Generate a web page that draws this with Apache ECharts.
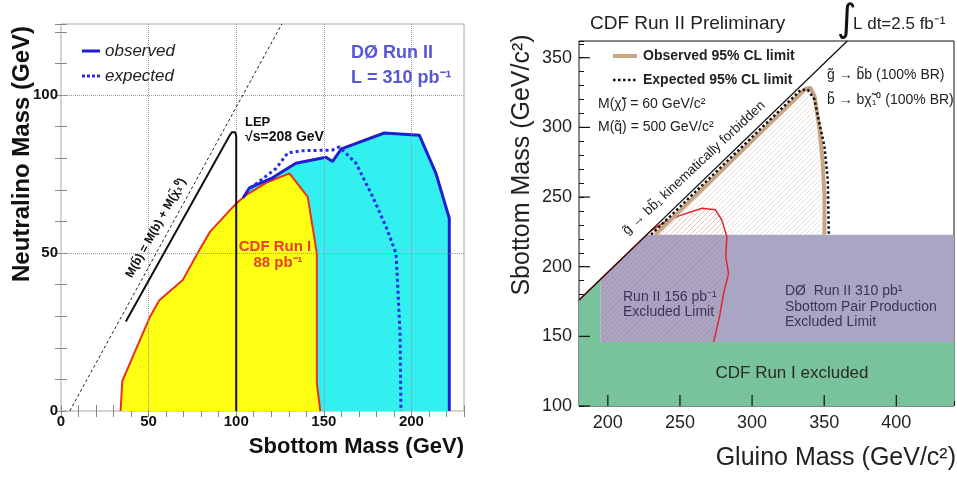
<!DOCTYPE html>
<html>
<head>
<meta charset="utf-8">
<script src="https://cdn.jsdelivr.net/npm/echarts@6/dist/echarts.min.js"></script>
<style>
  html, body { margin: 0; padding: 0; background: #fff; }
  #chart { width: 957px; height: 479px; }
</style>
</head>
<body>
<div id="chart"></div>
<script>
'use strict';
// ---- left panel: D0 sbottom search (neutralino vs sbottom mass) ----
const leftXLabels = [0, 50, 100, 150, 200];
const leftYLabels = [0, 50, 100];
const cdfRun1 = [[34, 0], [35, 9.5], [50.5, 29.5], [56, 35], [69.5, 41.5], [79, 51], [85, 56.7], [100, 65.7],
  [106, 68.5], [118, 72.5], [130.4, 75.2], [140.8, 67.8], [146, 50], [146, 8.8], [148, 0]];
const d0Observed = [[104, 67.5], [107.5, 70.6], [120, 73.6], [134, 78.4], [151.3, 80.3], [155, 79], [160, 83],
  [184.5, 88], [204.5, 87.3], [214, 75.2], [221.6, 61], [221.6, 0]];
const d0Expected = [[108, 70.5], [122.8, 76.8], [129.4, 81.7], [138, 82.4], [155, 82.6], [158.9, 83.6],
  [168.4, 78.4], [177.9, 67.8], [185.5, 58.3], [191.2, 49.9], [192.1, 40.4], [193.5, 24.6], [194, 0]];
const kinLimitLeft = [[5, 0], [126, 122.5]];
const lepLimit = [[37, 28.3], [96, 87], [97.5, 88.2], [99.5, 88.2], [100, 87], [100, 0]];

// ---- right panel: CDF gluino -> sbottom search ----
const rightXLabels = [200, 250, 300, 350, 400];
const rightYLabels = [100, 150, 200, 250, 300, 350];
const cdfRun1Excl = [[180, 100], [440, 100], [440, 146], [195, 146], [195, 191], [180, 176]];
const d0Run2Excl = [[195, 146], [440, 146], [440, 223], [227, 223], [195, 191]];
const run2Excl156 = [[195, 146], [195, 191], [229.8, 225.8], [240, 232.4], [249.3, 236.5], [265.3, 242],
  [274.6, 240.8], [279, 233.6], [282.5, 221.6], [281.8, 207], [283.7, 195], [280.3, 181], [277.4, 164], [273.4, 146]];
const run2Outline = [[180, 176], [229.8, 225.8], [240, 232.4], [249.3, 236.5], [265.3, 242], [274.6, 240.8],
  [279, 233.6], [282.5, 221.6], [281.8, 207], [283.7, 195], [280.3, 181], [277.4, 164], [273.4, 146]];
const observed95 = [[233, 223], [337, 327.5], [340.5, 328.4], [343.3, 322.5], [346.8, 298.3], [349, 274.4],
  [350.2, 250.4], [350.2, 223]];
const expected95 = [[230, 223], [334, 327], [338.6, 327], [343.3, 320], [345.6, 308], [350.2, 286.3],
  [352.5, 262.4], [353.2, 223]];
const kinLimitRight = [[180, 176], [366, 362]];

const FONT = 'Liberation Sans, Arial, sans-serif';

function hatch(color, bg) {
  const c = document.createElement('canvas');
  c.width = 5; c.height = 5;
  const ctx = c.getContext('2d');
  if (bg) { ctx.fillStyle = bg; ctx.fillRect(0, 0, 5, 5); }
  ctx.strokeStyle = color;
  ctx.lineWidth = 1;
  ctx.beginPath();
  ctx.moveTo(-1, 6); ctx.lineTo(6, -1);
  ctx.moveTo(-3, 3); ctx.lineTo(3, -3);
  ctx.moveTo(2, 8); ctx.lineTo(8, 2);
  ctx.stroke();
  return { image: c, repeat: 'repeat' };
}

function polygon(axis, pts, fill, z) {
  return {
    type: 'custom', coordinateSystem: 'cartesian2d', xAxisIndex: axis, yAxisIndex: axis,
    z: z, silent: true, data: [pts[0]],
    renderItem: (params, api) => ({
      type: 'polygon',
      shape: { points: pts.map(p => api.coord(p)) },
      style: { fill: fill }
    })
  };
}

function line(axis, pts, color, width, type, z, extra) {
  return Object.assign({
    type: 'line', xAxisIndex: axis, yAxisIndex: axis, data: pts, z: z,
    showSymbol: false, symbol: 'none', silent: true, animation: false,
    lineStyle: { color: color, width: width, type: type || 'solid' }
  }, extra || {});
}

function labelFmt(list) {
  return v => (list.indexOf(Math.round(v * 1000) / 1000) >= 0 ? String(v) : '');
}

function txt(x, y, text, font, fill, opt) {
  opt = opt || {};
  return {
    type: 'text', x: x, y: y, rotation: opt.rot || 0, z: 100,
    style: {
      text: text, font: font, fill: fill,
      textAlign: opt.align || 'left', textVerticalAlign: 'middle'
    }
  };
}

function seg(x1, y1, x2, y2, color, width, dash) {
  return {
    type: 'line', z: 100,
    shape: { x1: x1, y1: y1, x2: x2, y2: y2 },
    style: { stroke: color, lineWidth: width, lineDash: dash || null }
  };
}

const leftTick = { show: true, inside: true, length: 6, lineStyle: { color: '#888' } };

const option = {
  animation: false,
  backgroundColor: '#fff',
  grid: [
    { left: 61, top: 24, width: 403, height: 387, show: true, borderColor: '#aaa', borderWidth: 1 },
    { left: 579, top: 41, width: 377, height: 365, show: true, borderColor: '#111', borderWidth: 1 }
  ],
  xAxis: [
    {
      gridIndex: 0, type: 'value', min: 0, max: 230, interval: 10,
      axisLine: { show: false }, axisTick: leftTick, splitLine: { show: false },
      axisLabel: { formatter: labelFmt(leftXLabels), fontFamily: FONT, fontWeight: 'bold', fontSize: 15, color: '#111', margin: 3 }
    },
    {
      gridIndex: 0, type: 'value', position: 'top', min: 0, max: 230, interval: 10,
      axisLine: { show: false }, axisTick: leftTick, splitLine: { show: false }, axisLabel: { show: false }
    },
    {
      gridIndex: 1, type: 'value', min: 180, max: 440, interval: 10,
      axisLine: { show: false }, splitLine: { show: false },
      axisTick: { show: true, inside: true, length: 5, lineStyle: { color: '#111' } },
      axisLabel: { formatter: labelFmt(rightXLabels), fontFamily: FONT, fontSize: 18, color: '#222', margin: 8 }
    }
  ],
  yAxis: [
    {
      gridIndex: 0, type: 'value', min: 0, max: 122.5, interval: 10,
      axisLine: { show: false }, axisTick: leftTick, splitLine: { show: false },
      axisLabel: { formatter: labelFmt(leftYLabels), fontFamily: FONT, fontWeight: 'bold', fontSize: 15, color: '#111', margin: 3 }
    },
    {
      gridIndex: 0, type: 'value', position: 'right', min: 0, max: 122.5, interval: 10,
      axisLine: { show: false }, axisTick: leftTick, splitLine: { show: false }, axisLabel: { show: false }
    },
    {
      gridIndex: 1, type: 'value', min: 100, max: 362, interval: 10,
      axisLine: { show: false }, splitLine: { show: false },
      axisTick: { show: true, inside: true, length: 5, lineStyle: { color: '#111' } },
      axisLabel: { formatter: labelFmt(rightYLabels), fontFamily: FONT, fontSize: 18, color: '#222', margin: 7 }
    }
  ],
  series: [
    // left panel
    polygon(0, d0Observed.concat([[100, 0]]), '#33f0f0', 1),
    polygon(0, cdfRun1, '#ffff14', 2),
    line(0, cdfRun1, '#e8321a', 2, 'solid', 3),
    line(0, d0Observed, '#1f1fd0', 3, 'solid', 4),
    line(0, d0Expected, '#2a2ae6', 3, [3, 3], 4),
    line(0, lepLimit, '#111', 2, 'solid', 5),
    line(0, kinLimitLeft, '#222', 1, [3, 2.5], 6, {
      markLine: {
        silent: true, symbol: 'none', label: { show: false }, animation: false,
        lineStyle: { type: 'dotted', color: '#9a9a9a', width: 1 },
        data: leftXLabels.slice(1).map(v => ({ xAxis: v })).concat(leftYLabels.slice(1).map(v => ({ yAxis: v })))
      }
    }),
    // right panel
    polygon(2, cdfRun1Excl, '#78c39b', 1),
    polygon(2, d0Run2Excl, '#a8a6c4', 2),
    polygon(2, run2Excl156, hatch('rgba(210,70,80,0.24)'), 3),
    polygon(2, observed95, hatch('rgba(205,190,170,0.5)'), 3),
    line(2, run2Outline, '#e2242c', 1.5, 'solid', 5),
    line(2, observed95, '#c6a584', 4, 'solid', 5),
    line(2, expected95, '#111', 2.5, [2.5, 2.5], 6),
    line(2, kinLimitRight, '#111', 1.3, 'solid', 7),
    {
      type: 'custom', coordinateSystem: 'cartesian2d', xAxisIndex: 2, yAxisIndex: 2, z: 8, silent: true,
      data: rightXLabels.map(v => [v, 100]),
      renderItem: (params, api) => {
        const c = api.coord([api.value(0), api.value(1)]);
        return { type: 'line', shape: { x1: c[0], y1: c[1], x2: c[0], y2: c[1] - 11 }, style: { stroke: '#111', lineWidth: 1.2 } };
      }
    },
    {
      type: 'custom', coordinateSystem: 'cartesian2d', xAxisIndex: 2, yAxisIndex: 2, z: 8, silent: true,
      data: rightYLabels.map(v => [180, v]),
      renderItem: (params, api) => {
        const c = api.coord([api.value(0), api.value(1)]);
        return { type: 'line', shape: { x1: c[0], y1: c[1], x2: c[0] + 11, y2: c[1] }, style: { stroke: '#111', lineWidth: 1.2 } };
      }
    }
  ],
  graphic: [
    // left panel texts
    txt(22, 154, 'Neutralino Mass (GeV)', 'bold 24px ' + FONT, '#111', { rot: Math.PI / 2, align: 'center' }),
    txt(464, 447, 'Sbottom Mass (GeV)', 'bold 22px ' + FONT, '#111', { align: 'right' }),
    seg(82, 51, 100, 51, '#1f1fd0', 3),
    txt(105, 51, 'observed', 'italic 17px ' + FONT, '#222'),
    seg(82, 76, 100, 76, '#2a2ae6', 3, [3, 2]),
    txt(105, 76, 'expected', 'italic 17px ' + FONT, '#222'),
    txt(351, 53, 'DØ Run II', 'bold 18px ' + FONT, '#5656d6'),
    txt(351, 78, 'L = 310 pb⁻¹', 'bold 18px ' + FONT, '#5656d6'),
    txt(245, 122, 'LEP', 'bold 13px ' + FONT, '#111'),
    txt(245, 137, '√s=208 GeV', 'bold 14px ' + FONT, '#111'),
    txt(156, 228, 'M(b̃) = M(b) + M(χ̃₁⁰)', 'bold 12px ' + FONT, '#111', { rot: 61 * Math.PI / 180, align: 'center' }),
    txt(275, 247, 'CDF Run I', 'bold 15px ' + FONT, '#e8401c', { align: 'center' }),
    txt(278, 263, '88 pb⁻¹', 'bold 15px ' + FONT, '#e8401c', { align: 'center' }),
    // right panel texts
    txt(590, 24, 'CDF Run II Preliminary', '19px ' + FONT, '#222'),
    txt(847, 21, '∫', '38px DejaVu Sans, sans-serif', '#111', { align: 'center' }),
    txt(853, 24, 'L dt=2.5 fb⁻¹', '17px ' + FONT, '#222'),
    txt(522, 165, 'Sbottom Mass (GeV/c²)', '25px ' + FONT, '#222', { rot: Math.PI / 2, align: 'center' }),
    txt(956, 458, 'Gluino Mass (GeV/c²)', '25px ' + FONT, '#222', { align: 'right' }),
    seg(613, 56, 637, 56, '#c6a584', 4),
    txt(643, 56, 'Observed 95% CL limit', 'bold 14px ' + FONT, '#222'),
    seg(613, 80, 637, 80, '#111', 2.5, [2.5, 2.5]),
    txt(643, 80, 'Expected 95% CL limit', 'bold 14px ' + FONT, '#222'),
    txt(598, 104, 'M(χ̃) = 60 GeV/c²', '14px ' + FONT, '#222'),
    txt(598, 127, 'M(q̃) = 500 GeV/c²', '14px ' + FONT, '#222'),
    txt(827, 75, 'g̃ → b̃b (100% BR)', '14px ' + FONT, '#222'),
    txt(827, 100, 'b̃ → bχ̃₁⁰ (100% BR)', '14px ' + FONT, '#222'),
    txt(694, 168, 'g̃ → bb̃₁ kinematically forbidden', '13.5px ' + FONT, '#222', { rot: 43 * Math.PI / 180, align: 'center' }),
    txt(623, 297, 'Run II 156 pb⁻¹', '14px ' + FONT, '#3b3458'),
    txt(623, 312, 'Excluded Limit', '14px ' + FONT, '#3b3458'),
    txt(785, 291, 'DØ  Run II 310 pb¹', '14px ' + FONT, '#3b3458'),
    txt(785, 307, 'Sbottom Pair Production', '14px ' + FONT, '#3b3458'),
    txt(785, 322, 'Excluded Limit', '14px ' + FONT, '#3b3458'),
    txt(792, 373, 'CDF Run I excluded', '17px ' + FONT, '#2a2a2a', { align: 'center' })
  ]
};

const chart = echarts.init(document.getElementById('chart'));
chart.setOption(option);
window.addEventListener('resize', () => chart.resize());
</script>
</body>
</html>
